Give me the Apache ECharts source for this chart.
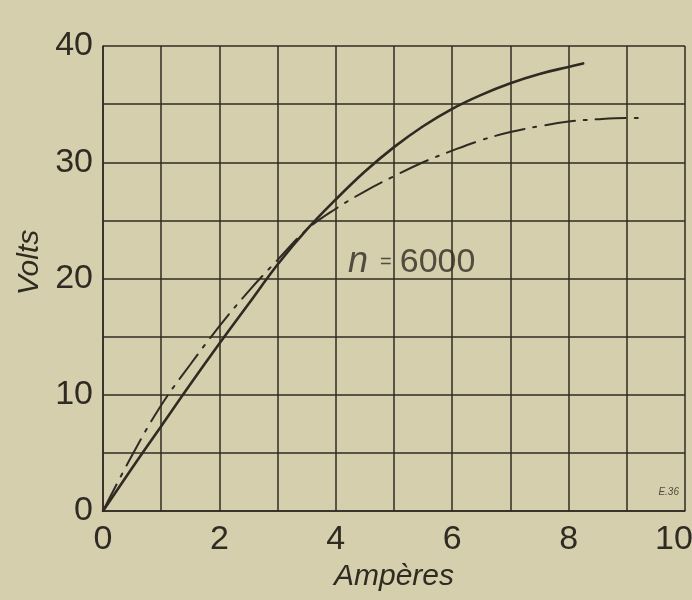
<!DOCTYPE html>
<html>
<head>
<meta charset="utf-8">
<script src="https://cdn.jsdelivr.net/npm/echarts@6/dist/echarts.min.js"></script>
<style>
html,body{margin:0;padding:0;background:#d5cfad;}
#chart{width:692px;height:600px;}
</style>
</head>
<body>
<div id="chart"></div>
<script>
// Solid curve (amperes, volts)
const ampSolid  = [0, 0.5, 1, 1.5, 2, 2.5, 3, 3.5, 4, 4.5, 5, 5.5, 6, 6.5, 7, 7.5, 8, 8.25];
const voltSolid = [0, 3.7, 7.3, 10.9, 14.4, 17.8, 21.2, 24.2, 26.8, 29.2, 31.3, 33.1, 34.6, 35.8, 36.8, 37.6, 38.2, 38.5];
// Dash-dot curve
const ampDash  = [0, 0.5, 1, 1.5, 2, 2.5, 3, 3.5, 4, 4.5, 5, 5.5, 6, 6.5, 7, 7.5, 8, 8.5, 9, 9.3];
const voltDash = [0, 4.8, 9.1, 12.6, 15.9, 18.9, 21.6, 24.2, 26.0, 27.5, 28.8, 30.0, 31.0, 31.9, 32.6, 33.1, 33.5, 33.7, 33.8, 33.8];
// Axis ticks
const xTicks = [0, 2, 4, 6, 8, 10];
const yTicks = [0, 10, 20, 30, 40];
// Annotations
const annotation = { x: 4.21, y: 21.4, text: '6000' };
const signature = { x: 9.72, y: 1.6, text: 'E.36' };

const ink = '#2f2b22';
const numFont = "'Liberation Sans', Arimo, 'DejaVu Sans', sans-serif";

const chart = echarts.init(document.getElementById('chart'), null, {renderer: 'canvas'});
chart.setOption({
  backgroundColor: '#d5cfad',
  animation: false,
  grid: { left: 103, right: 7, top: 46, bottom: 89, containLabel: false, outerBoundsMode: 'none' },
  xAxis: {
    type: 'value', min: 0, max: 10, interval: 1,
    name: 'Ampères', nameLocation: 'middle', nameGap: 46,
    nameTextStyle: { color: ink, fontSize: 30, fontStyle: 'italic', fontFamily: numFont, lineHeight: 30 },
    axisLine: { show: true, lineStyle: { color: ink, width: 1.5 } },
    axisTick: { show: false },
    splitLine: { show: true, lineStyle: { color: ink, width: 1.5 } },
    axisLabel: {
      color: ink, fontSize: 34, fontFamily: numFont, margin: 12, lineHeight: 34,
      hideOverlap: false,
      formatter: v => xTicks.includes(v) ? (v === 10 ? '{last|10}' : String(v)) : '',
      rich: { last: { color: ink, fontSize: 34, fontFamily: numFont, lineHeight: 34, padding: [0, 22, 0, 0] } }
    }
  },
  yAxis: {
    type: 'value', min: 0, max: 40, interval: 5,
    name: 'Volts', nameLocation: 'middle', nameGap: 58,
    nameTextStyle: { color: ink, fontSize: 30, fontStyle: 'italic', fontFamily: numFont, lineHeight: 30, padding: [0, 0, 0, 32] },
    axisLine: { show: true, lineStyle: { color: ink, width: 1.5 } },
    axisTick: { show: false },
    splitLine: { show: true, lineStyle: { color: ink, width: 1.5 } },
    axisLabel: {
      color: ink, fontSize: 34, fontFamily: numFont, margin: 10, lineHeight: 34,
      verticalAlign: 'middle', padding: [0, 0, 22, 0],
      formatter: v => yTicks.includes(v) ? String(v) : ''
    }
  },
  series: [
    {
      type: 'line', smooth: 0.4, showSymbol: false, symbol: 'none',
      data: ampSolid.map((a, i) => [a, voltSolid[i]]),
      lineStyle: { color: ink, width: 2.6, cap: 'round' },
      z: 5
    },
    {
      type: 'line', smooth: 0.4, showSymbol: false, symbol: 'none',
      data: ampDash.map((a, i) => [a, voltDash[i]]),
      lineStyle: { color: ink, width: 2, type: [30, 9, 3, 9], cap: 'round' },
      z: 5
    },
    {
      type: 'scatter', symbolSize: 0, silent: true,
      data: [[annotation.x, annotation.y]],
      label: {
        show: true, position: 'right', distance: 0,
        formatter: '{n|n}{eq|=}{v|' + annotation.text + '}',
        rich: {
          n: { color: ink, fontSize: 36, fontStyle: 'italic', fontFamily: numFont },
          eq: { color: ink, fontSize: 20, fontFamily: numFont, padding: [0, 8, 0, 12] },
          v: { color: ink, fontSize: 34, fontFamily: numFont }
        }
      },
      z: 6
    },
    {
      type: 'scatter', symbolSize: 0, silent: true,
      data: [[signature.x, signature.y]],
      label: {
        show: true, position: 'inside',
        formatter: signature.text,
        color: ink, fontSize: 10, fontStyle: 'italic', fontFamily: numFont
      },
      z: 6
    }
  ]
});
</script>
</body>
</html>
